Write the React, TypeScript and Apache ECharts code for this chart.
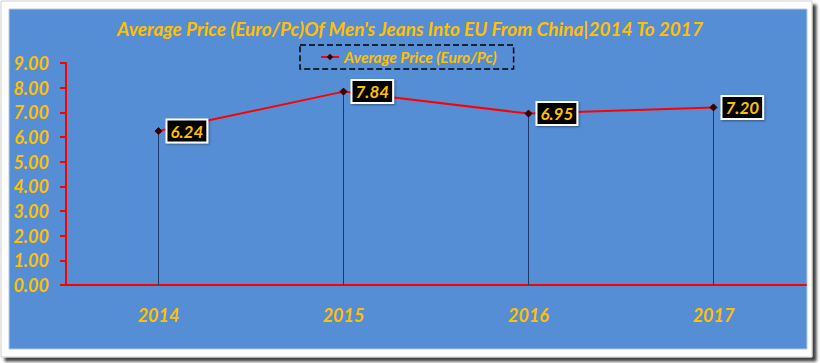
import React, { useEffect, useRef } from "react";
import * as echarts from "echarts";

const categories = ["2014", "2015", "2016", "2017"];
const avgPrice = [6.24, 7.84, 6.95, 7.2];
const yTicks = { min: 0, max: 9, interval: 1 };
const titleText = "Average Price (Euro/Pc)Of Men's Jeans Into EU From China|2014 To 2017";
const seriesName = "Average Price (Euro/Pc)";

const FONT = "Lato, 'Open Sans', sans-serif";
const GOLD = "#FFC000";

export default function App() {
  const ref = useRef<HTMLDivElement>(null);
  useEffect(() => {
    if (!ref.current) return;
    const chart = echarts.init(ref.current, undefined, { renderer: "svg" });
    chart.setOption({
      animation: false,
      backgroundColor: "#ffffff",
      graphic: [
        {
          type: "rect",
          z: -10,
          silent: true,
          shape: { x: 1, y: 1, width: 811, height: 356 },
          style: {
            fill: "#ffffff",
            stroke: "#cfcfcf",
            lineWidth: 1,
            shadowColor: "rgba(0,0,0,0.75)",
            shadowBlur: 3,
            shadowOffsetX: 4,
            shadowOffsetY: 4,
          },
        },
        {
          type: "rect",
          z: -9,
          silent: true,
          shape: { x: 9, y: 9, width: 798, height: 340 },
          style: { fill: "#558ED5", stroke: "#b8c8dc", lineWidth: 1 },
        },
      ],
      title: {
        text: titleText,
        left: "center",
        top: 14,
        textStyle: {
          color: GOLD,
          fontFamily: FONT,
          fontStyle: "italic",
          fontWeight: "bold",
          fontSize: 19,
        },
      },
      legend: {
        data: [seriesName],
        left: 300,
        top: 45,
        padding: [4, 17, 4, 20],
        borderColor: "#000",
        borderWidth: 1.5,
        borderType: "dashed",
        itemWidth: 18,
        itemHeight: 8,
        textStyle: {
          color: GOLD,
          fontFamily: FONT,
          fontStyle: "italic",
          fontWeight: "bold",
          fontSize: 15.5,
        },
      },
      grid: { left: 66, right: 14, top: 63, bottom: 78, containLabel: false },
      xAxis: {
        type: "category",
        data: categories,
        boundaryGap: true,
        axisLine: { lineStyle: { color: "#FF0000", width: 2 } },
        axisTick: { show: false },
        axisLabel: {
          color: GOLD,
          fontFamily: FONT,
          fontStyle: "italic",
          fontWeight: "bold",
          fontSize: 18,
          margin: 21,
        },
        splitLine: { show: false },
      },
      yAxis: {
        type: "value",
        min: yTicks.min,
        max: yTicks.max,
        interval: yTicks.interval,
        axisLine: { show: true, lineStyle: { color: "#FF0000", width: 2 } },
        axisTick: { show: true, length: 6, lineStyle: { color: "#FF0000", width: 2 } },
        axisLabel: {
          color: GOLD,
          fontFamily: FONT,
          fontStyle: "italic",
          fontWeight: "bold",
          fontSize: 18,
          margin: 17,
          formatter: (v: number) => v.toFixed(2),
        },
        splitLine: { show: false },
      },
      series: [
        {
          type: "bar",
          name: "drop",
          data: avgPrice,
          barWidth: 1,
          silent: true,
          itemStyle: { color: "#1E3A66" },
          z: 1,
        },
        {
          type: "line",
          name: seriesName,
          data: avgPrice,
          symbol: "diamond",
          symbolSize: 7,
          lineStyle: { color: "#FF0000", width: 2 },
          itemStyle: { color: "#3a0000", borderColor: "#3a0000" },
          z: 3,
          label: {
            show: true,
            position: "right",
            distance: 5,
            formatter: (p: any) => Number(p.value).toFixed(2),
            color: GOLD,
            fontFamily: FONT,
            fontStyle: "italic",
            fontWeight: "bold",
            fontSize: 17,
            backgroundColor: "#000000",
            borderColor: "#ffffff",
            borderWidth: 2,
            padding: [3, 3, 1, 3],
            shadowColor: "rgba(0,0,0,0.4)",
            shadowBlur: 2,
            shadowOffsetX: 1,
            shadowOffsetY: 1,
          },
        },
      ],
    });
    return () => chart.dispose();
  }, []);
  return (
    <div
      ref={ref}
      style={{ position: "absolute", left: 0, top: 0, width: 820, height: 363 }}
    />
  );
}
